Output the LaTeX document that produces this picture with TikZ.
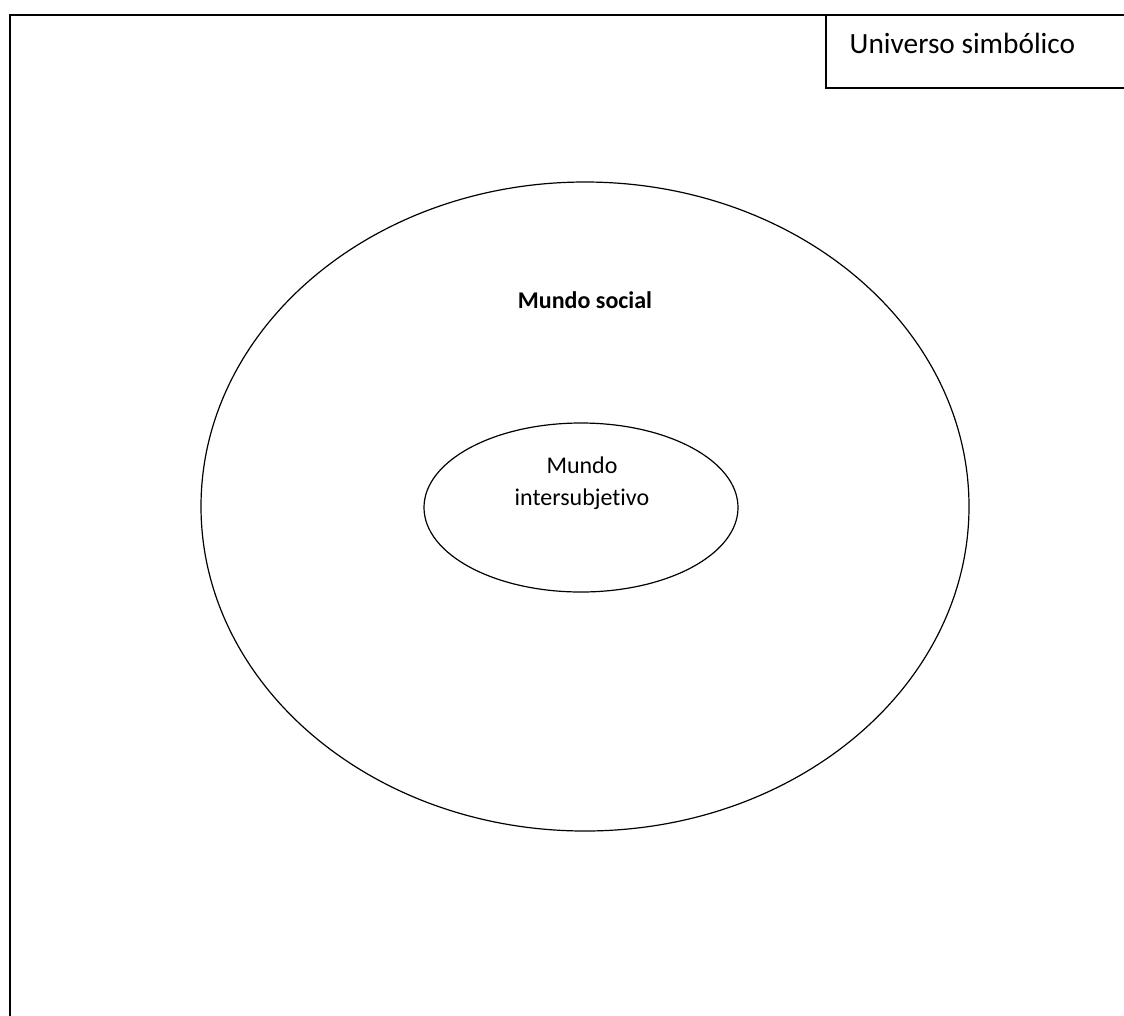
\documentclass[tikz,border=0pt]{standalone}
\usepackage{fontspec}
\setmainfont[Ligatures=NoCommon]{Carlito}
\usetikzlibrary{shapes.geometric}
\begin{document}
\begin{tikzpicture}[x=0.75pt,y=-0.75pt,
  frame/.style={draw=black,line width=1.4pt},
  oval/.style={ellipse,draw=black,line width=0.9pt,inner sep=0pt},
  label/.style={font=\fontsize{18}{24}\selectfont,align=center}]
  \clip (0,0) rectangle (1124,1015);
  % outer frame of the symbolic universe, running past the page edge
  \node[frame,rectangle,minimum width=1140*0.75pt,minimum height=1020*0.75pt,anchor=north west,inner sep=0pt] (univ) at (9,14) {};
  % title box in the upper right corner
  \node[frame,rectangle,minimum width=320*0.75pt,minimum height=73*0.75pt,anchor=north west,inner sep=0pt] (titlebox) at (825,14) {};
  \node[font=\fontsize{22}{26}\selectfont,anchor=base west] (title) at (845,53) {Universo simbólico};
  % social world
  \node[oval,minimum width=768*0.75pt,minimum height=649*0.75pt] (social) at (585,506.5) {};
  \node[label,font=\bfseries\fontsize{18}{24}\selectfont,anchor=base] (socialtxt) at (585,308) {Mundo social};
  % intersubjective world
  \node[oval,minimum width=314*0.75pt,minimum height=169*0.75pt] (inter) at (581,507.5) {};
  \node[label,anchor=base] (intertxt1) at (582,473) {Mundo};
  \node[label,anchor=base] (intertxt2) at (582,505) {intersubjetivo};
\end{tikzpicture}
\end{document}
